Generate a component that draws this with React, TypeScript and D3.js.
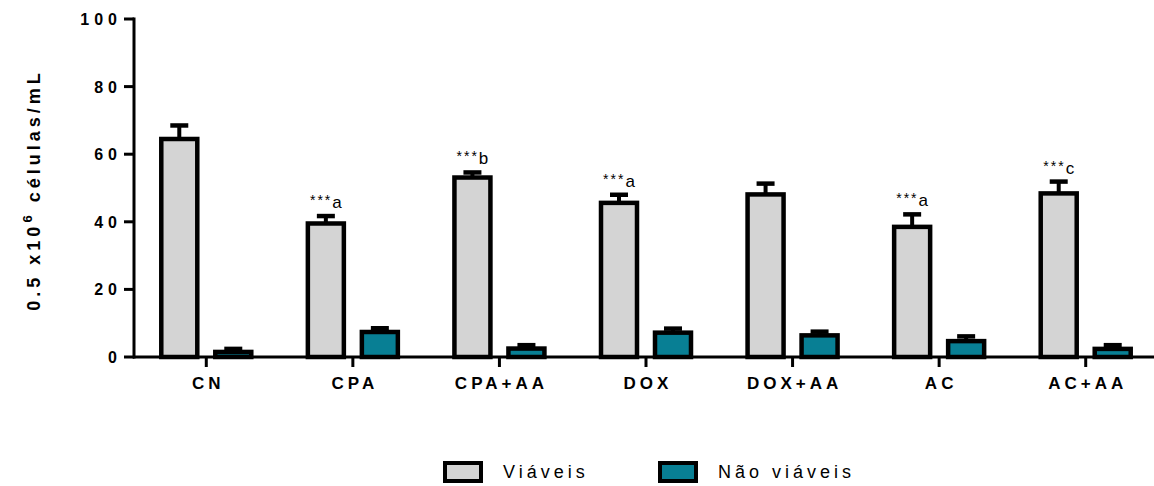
import React from "react";
import * as d3 from "d3";

const categories = ["CN", "CPA", "CPA+AA", "DOX", "DOX+AA", "AC", "AC+AA"];
const viaveis = [64.5, 39.5, 53.1, 45.6, 48.1, 38.5, 48.4];
const viaveisErr = [4.0, 2.2, 1.5, 2.4, 3.2, 3.7, 3.5];
const naoViaveis = [1.5, 7.4, 2.5, 7.2, 6.4, 4.7, 2.4];
const naoViaveisErr = [0.9, 1.1, 1.0, 1.2, 1.1, 1.4, 1.1];
const annotStars = ["", "***", "***", "***", "", "***", "***"];
const annotLetters = ["", "a", "b", "a", "", "a", "c"];
const yTicks = [0, 20, 40, 60, 80, 100];
const seriesNames = ["Viáveis", "Não viáveis"];
const seriesColors = ["#d4d4d4", "#087f94"];

export default function App() {
  const W = 1154, H = 486;
  const x = d3.scaleBand<string>().domain(categories).range([133, 1159]);
  const y = d3.scaleLinear().domain([0, 100]).range([357, 19]);
  const off = 27;
  const bw = 36;
  const sw = 4.5;
  const font = "Arial, 'Liberation Sans', sans-serif";

  const bars: React.ReactNode[] = [];
  categories.forEach((c, i) => {
    const cx = (x(c) as number) + x.bandwidth() / 2;
    const series = [
      { v: viaveis[i], e: viaveisErr[i], fill: seriesColors[0], bx: cx - off },
      { v: naoViaveis[i], e: naoViaveisErr[i], fill: seriesColors[1], bx: cx + off },
    ];
    series.forEach((s, j) => {
      bars.push(
        <g key={`${c}-${j}`}>
          <line x1={s.bx} x2={s.bx} y1={y(s.v)} y2={y(s.v + s.e)} stroke="#000" strokeWidth={4} />
          <line x1={s.bx - 9} x2={s.bx + 9} y1={y(s.v + s.e)} y2={y(s.v + s.e)} stroke="#000" strokeWidth={4.5} />
          <rect x={s.bx - bw / 2} y={y(s.v)} width={bw} height={y(0) - y(s.v)} fill={s.fill} stroke="#000" strokeWidth={sw} />
        </g>
      );
    });
    if (annotStars[i]) {
      bars.push(
        <text key={`an-${c}`} x={cx - off} y={y(viaveis[i] + viaveisErr[i]) - 8} textAnchor="middle" fontFamily={font} fill="#000">
          <tspan fontSize={14} letterSpacing={2} dy={-3}>{annotStars[i]}</tspan>
          <tspan fontSize={17} dy={3}>{annotLetters[i]}</tspan>
        </text>
      );
    }
  });

  return (
    <svg width={W} height={H} style={{ position: "absolute", left: 0, top: 0, background: "#fff" }}>
      {/* y axis */}
      <line x1={134} x2={134} y1={y(100) - 1.5} y2={y(0) + 1.5} stroke="#000" strokeWidth={3} />
      {yTicks.map((t) => (
        <g key={`yt-${t}`}>
          <line x1={124} x2={134} y1={y(t)} y2={y(t)} stroke="#000" strokeWidth={3} />
          <text x={122} y={y(t)} dy="0.38em" textAnchor="end" fontFamily={font} fontWeight="bold" fontSize={16} letterSpacing={5}>
            {t}
          </text>
        </g>
      ))}
      {/* x axis */}
      <line x1={133} x2={1159} y1={y(0)} y2={y(0)} stroke="#000" strokeWidth={3} />
      {categories.map((c) => {
        const cx = (x(c) as number) + x.bandwidth() / 2;
        return (
          <g key={`xt-${c}`}>
            <line x1={cx} x2={cx} y1={y(0)} y2={y(0) + 10} stroke="#000" strokeWidth={3} />
            <text x={cx + 2} y={389} textAnchor="middle" fontFamily={font} fontWeight="bold" fontSize={17} letterSpacing={4}>
              {c}
            </text>
          </g>
        );
      })}
      {bars}
      {/* y title */}
      <text transform={`translate(40, ${(y(0) + y(100)) / 2 + 2}) rotate(-90)`} textAnchor="middle" fontFamily={font} fontWeight="bold" fontSize={18} letterSpacing={4}>
        <tspan>0.5 x10</tspan>
        <tspan dy={-8} fontSize={13}>6</tspan>
        <tspan dy={8}> células/mL</tspan>
      </text>
      {/* legend */}
      {seriesNames.map((n, i) => {
        const lx = [445, 660][i];
        return (
          <g key={`lg-${n}`}>
            <rect x={lx} y={463} width={36} height={18} fill={seriesColors[i]} stroke="#000" strokeWidth={4} />
            <text x={lx + 58} y={478} fontFamily={font} fontSize={18} letterSpacing={4}>
              {n}
            </text>
          </g>
        );
      })}
    </svg>
  );
}
